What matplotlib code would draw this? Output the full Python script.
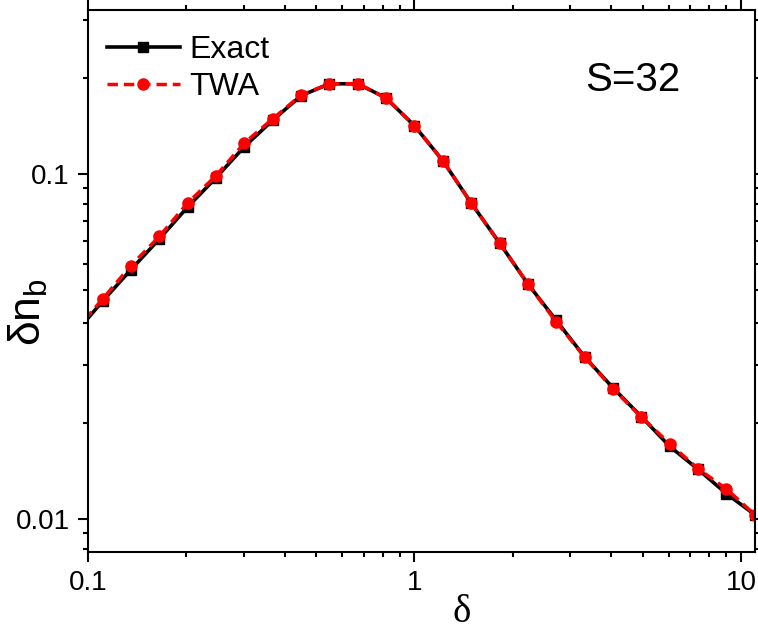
import numpy as np
import matplotlib
matplotlib.use('Agg')
import matplotlib.pyplot as plt
from matplotlib.ticker import FixedLocator, NullFormatter, FuncFormatter, LogLocator

plt.rcParams['font.family'] = ['Liberation Sans', 'DejaVu Sans']

# delta = exp(0.2*k), k = -12..12 (first point lies just left of the axis)
k = np.arange(-12, 13)
delta = np.exp(0.2 * k)

# exact result (black squares)
exact = [0.0343, 0.04279, 0.05280, 0.06480, 0.08022, 0.09756, 0.1200, 0.1432,
         0.1687, 0.1827, 0.1827, 0.1661, 0.1380, 0.1093, 0.0824, 0.0631,
         0.0480, 0.03764, 0.0295, 0.0240, 0.0198, 0.01623, 0.01393, 0.01184,
         0.01029]

# truncated Wigner approximation (red circles)
twa = [0.0348, 0.04342, 0.05422, 0.06593, 0.08240, 0.09888, 0.1230, 0.1446,
       0.1694, 0.1827, 0.1827, 0.1661, 0.1380, 0.1093, 0.0824, 0.0631,
       0.0480, 0.03724, 0.02949, 0.02385, 0.01975, 0.01653, 0.01398, 0.01222,
       0.01029]

fig = plt.figure(figsize=(7.58, 6.32), dpi=100)
ax = fig.add_axes([0.1161, 0.1266, 0.8799, 0.8576])

ax.plot(delta, exact, color='black', lw=2.6, marker='s', ms=6.5,
        label='Exact')
ax.plot(delta, twa, color='red', lw=2.5, ls=(0, (3.0, 1.7)), marker='o',
        ms=8, label='TWA')

ax.set_xscale('log')
ax.set_yscale('log')
ax.set_xlim(0.1, 11.04)
ax.set_ylim(0.00802, 0.299)

# ticks like Origin: outward on all four sides
ax.set_xticks([0.1, 1, 10])
ax.xaxis.set_minor_locator(LogLocator(base=10, subs=np.arange(2, 10)))
ax.set_yticks([0.01, 0.1])
ymin = []
for d in [0.001, 0.01, 0.1]:
    ymin += list(d * (1 + 0.9 * np.arange(1, 10)))
ax.yaxis.set_minor_locator(FixedLocator(ymin))
fmt = FuncFormatter(lambda v, p: '%g' % v)
ax.xaxis.set_major_formatter(fmt)
ax.yaxis.set_major_formatter(fmt)
ax.xaxis.set_minor_formatter(NullFormatter())
ax.yaxis.set_minor_formatter(NullFormatter())
ax.tick_params(which='both', direction='out', top=True, right=True,
               width=1.5, labelsize=20)
ax.tick_params(which='major', length=7.2, pad=6)
ax.tick_params(which='minor', length=3.6)
for s in ax.spines.values():
    s.set_linewidth(1.5)

ax.legend(loc='upper left', bbox_to_anchor=(0.028, 0.953), frameon=False,
          fontsize=23, numpoints=1, handlelength=2.3, handletextpad=0.3,
          labelspacing=0.2, borderpad=0, borderaxespad=0)

fig.text(633 / 758, 1 - 80 / 632, 'S=32', fontsize=29, ha='center',
         va='center')

fig.text(462 / 758, 1 - 612 / 632, 'δ', fontsize=28, ha='center',
         va='center', family=['Liberation Serif', 'DejaVu Serif'])
fig.text(28 / 758, 1 - 312 / 632, r'$\mathregular{δn_b}$', fontsize=32,
         ha='center', va='center', rotation=90)

fig.savefig('out.png', dpi=100)
